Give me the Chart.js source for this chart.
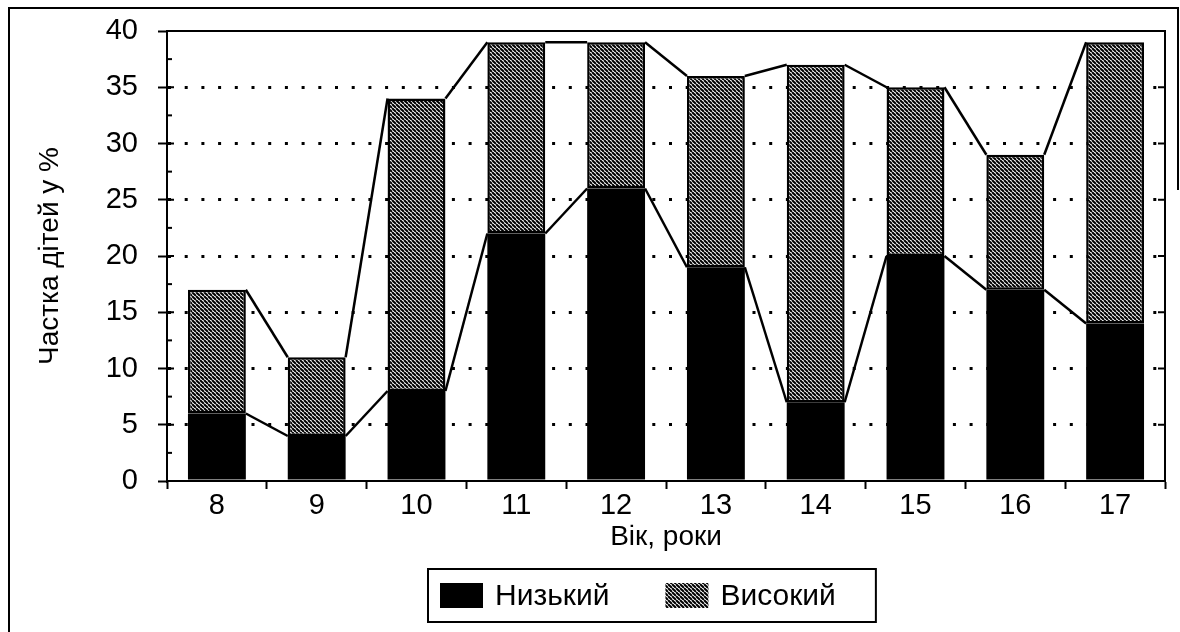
<!DOCTYPE html>
<html>
<head>
<meta charset="utf-8">
<title>Частка дітей</title>
<script src="https://cdn.jsdelivr.net/npm/chart.js@4"></script>
<style>
    html, body {
        margin: 0;
        padding: 0;
        background: #ffffff;
    }

    .wrap {
        width: 1180px;
        height: 632px;
        position: relative;
    }
</style>
</head>
<body>
<div class="wrap"><canvas id="chart"></canvas></div>
<script>
// values
const ages = ['8', '9', '10', '11', '12', '13', '14', '15', '16', '17'];
const lowShare = [6, 4, 8, 22, 26, 19, 7, 20, 17, 14];
const highShare = [11, 7, 26, 17, 13, 17, 30, 15, 12, 25];
const seriesNames = ['Низький', 'Високий'];
const yMin = 0;
const yMax = 40;
const yLabelStep = 5;
const xTitle = 'Вік, роки';
const yTitle = 'Частка дітей у %';

const FONT = '"Liberation Sans", Arial, sans-serif';

function makeHatch() {
    const c = document.createElement('canvas');
    c.width = 4;
    c.height = 4;
    const g = c.getContext('2d');
    g.fillStyle = '#ffffff';
    g.fillRect(0, 0, 4, 4);
    g.strokeStyle = '#000000';
    g.lineWidth = 2;
    g.beginPath();
    for (let k = -4; k <= 4; k += 4) {
        g.moveTo(k, 0);
        g.lineTo(k + 4, 4);
    }
    g.stroke();
    return g.createPattern(c, 'repeat');
}

const hatch = makeHatch();

// white page + outer frame + top/right frame of the plot
const framePlugin = {
    id: 'frame',
    beforeDraw(chart) {
        const ctx = chart.ctx;
        ctx.save();
        ctx.fillStyle = '#ffffff';
        ctx.fillRect(0, 0, chart.width, chart.height);
        ctx.restore();
    },
    afterDraw(chart) {
        const ctx = chart.ctx;
        const a = chart.chartArea;
        ctx.save();
        ctx.strokeStyle = '#000';
        ctx.lineWidth = 2;
        ctx.beginPath();
        ctx.moveTo(a.left, a.top);
        ctx.lineTo(a.right, a.top);
        ctx.lineTo(a.right, a.bottom);
        ctx.stroke();

        // minor ticks cross the axis, major ones reach a bit inside too
        const y = chart.scales.y;
        y.ticks.forEach(t => {
            const py = y.getPixelForValue(t.value);
            const major = t.value % yLabelStep === 0;
            ctx.beginPath();
            ctx.moveTo(a.left, py);
            ctx.lineTo(a.left + (major ? 7 : 5), py);
            ctx.moveTo(a.right, py);
            ctx.lineTo(a.right - (major ? 7 : 0), py);
            ctx.stroke();
        });

        ctx.beginPath();
        ctx.moveTo(9, chart.height);
        ctx.lineTo(9, 8);
        ctx.lineTo(1178, 8);
        ctx.lineTo(1178, 190);
        ctx.stroke();
        ctx.restore();
    }
};

// lines joining the tops of neighbouring bars
const seriesLinesPlugin = {
    id: 'seriesLines',
    afterDatasetsDraw(chart) {
        const ctx = chart.ctx;
        ctx.save();
        ctx.strokeStyle = '#000';
        ctx.lineWidth = 2.5;
        chart.data.datasets.forEach((ds, di) => {
            const bars = chart.getDatasetMeta(di).data;
            for (let i = 0; i < bars.length - 1; i++) {
                const a = bars[i].getProps(['x', 'y', 'width'], true);
                const b = bars[i + 1].getProps(['x', 'y', 'width'], true);
                ctx.beginPath();
                ctx.moveTo(a.x + a.width / 2, a.y);
                ctx.lineTo(b.x - b.width / 2, b.y);
                ctx.stroke();
            }
        });
        ctx.restore();
    }
};

// legend in a framed box under the axis title
const boxLegendPlugin = {
    id: 'boxLegend',
    afterDraw(chart) {
        const ctx = chart.ctx;
        ctx.save();
        ctx.font = '30px ' + FONT;
        const items = chart.data.datasets.map(ds => ({
            text: ds.label,
            fill: ds.backgroundColor,
            w: ctx.measureText(ds.label).width
        }));
        const sw = 43, sh = 25, gap = 12, itemGap = 56, padL = 12, padR = 40;
        let contentW = 0;
        items.forEach(it => { contentW += sw + gap + it.w; });
        contentW += itemGap * (items.length - 1);
        const boxW = padL + contentW + padR;
        const boxH = 53;
        const left = Math.round(652 - boxW / 2);
        const top = 569;

        ctx.fillStyle = '#fff';
        ctx.fillRect(left, top, boxW, boxH);
        ctx.strokeStyle = '#000';
        ctx.lineWidth = 2;
        ctx.strokeRect(left, top, boxW, boxH);

        let x = left + padL;
        const cy = top + boxH / 2;
        items.forEach(it => {
            ctx.fillStyle = it.fill;
            ctx.fillRect(x, cy - sh / 2, sw, sh);
            x += sw + gap;
            ctx.fillStyle = '#000';
            ctx.textAlign = 'left';
            ctx.textBaseline = 'middle';
            ctx.fillText(it.text, x, cy + 1);
            x += it.w + itemGap;
        });
        ctx.restore();
    }
};

const tickFont = { family: FONT, size: 29 };
const titleFont = { family: FONT, size: 28 };

new Chart(document.getElementById('chart').getContext('2d'), {
    type: 'bar',
    data: {
        labels: ages,
        datasets: [{
            label: seriesNames[0],
            data: lowShare,
            backgroundColor: '#000000',
            borderWidth: 0
        }, {
            label: seriesNames[1],
            data: highShare,
            backgroundColor: hatch,
            borderColor: '#000000',
            borderWidth: 2.5,
            borderSkipped: false
        }]
    },
    options: {
        responsive: true,
        maintainAspectRatio: false,
        animation: false,
        events: [],
        layout: { padding: { left: 10, right: 15, top: 31, bottom: 59 } },
        datasets: {
            bar: { categoryPercentage: 1, barPercentage: 0.58 }
        },
        plugins: {
            legend: { display: false },
            tooltip: { enabled: false }
        },
        scales: {
            x: {
                stacked: true,
                grid: {
                    offset: true,
                    drawOnChartArea: false,
                    tickLength: 8,
                    tickWidth: 2,
                    tickColor: '#000'
                },
                border: { color: '#000', width: 2 },
                ticks: { color: '#000', font: tickFont, padding: 0, maxRotation: 0 },
                title: {
                    display: true,
                    text: xTitle,
                    color: '#000',
                    font: titleFont,
                    padding: { top: 0, bottom: 19 }
                },
                afterFit: s => {
                    s.height = 92;
                    s.paddingLeft = 0;
                    s.paddingRight = 0;
                }
            },
            y: {
                stacked: true,
                min: yMin,
                max: yMax,
                grid: {
                    color: c => (c.tick && c.tick.value % yLabelStep === 0 && c.tick.value > yMin && c.tick.value < yMax) ? '#000' : 'rgba(0,0,0,0)',
                    lineWidth: 3,
                    tickLength: 9,
                    tickWidth: 2,
                    tickColor: c => (c.tick && c.tick.value % yLabelStep === 0) ? '#000' : 'rgba(0,0,0,0)'
                },
                border: { color: '#000', width: 2, dash: [3, 13.7] },
                ticks: {
                    stepSize: yLabelStep / 2,
                    autoSkip: false,
                    color: '#000',
                    font: tickFont,
                    padding: 20,
                    callback: v => (v % yLabelStep === 0 ? v : '')
                },
                title: {
                    display: true,
                    text: yTitle,
                    color: '#000',
                    font: titleFont,
                    padding: { top: 23, bottom: 0 }
                },
                afterFit: s => {
                    s.width = 157;
                    s.paddingTop = 0;
                    s.paddingBottom = 0;
                }
            }
        }
    },
    plugins: [framePlugin, seriesLinesPlugin, boxLegendPlugin]
});
</script>
</body>
</html>
